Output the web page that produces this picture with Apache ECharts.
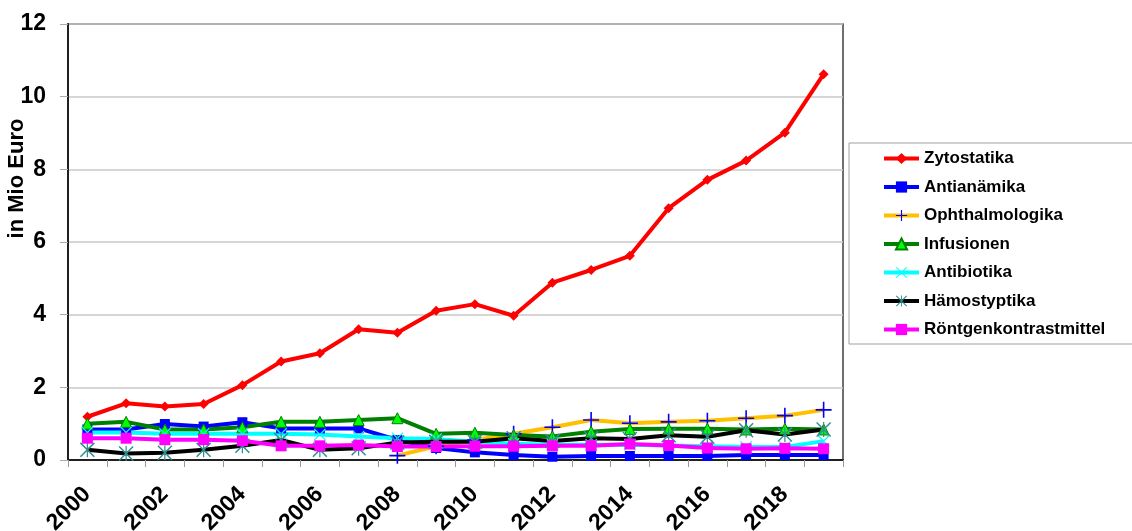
<!DOCTYPE html>
<html>
<head>
<meta charset="utf-8">
<script src="https://cdn.jsdelivr.net/npm/echarts@6/dist/echarts.min.js"></script>
<style>
  html, body { margin: 0; padding: 0; background: #fff; }
  #chart { width: 1132px; height: 531px; }
</style>
</head>
<body>
<div id="chart"></div>
<script>
var years = ['2000','2001','2002','2003','2004','2005','2006','2007','2008','2009',
             '2010','2011','2012','2013','2014','2015','2016','2017','2018','2019'];

var zytostatika = [1.19,1.56,1.47,1.54,2.06,2.71,2.94,3.6,3.5,4.11,4.29,3.97,4.88,5.23,5.62,6.93,7.71,8.24,9.01,10.62];
var antianaemika = [0.84,0.84,0.99,0.92,1.04,0.87,0.87,0.87,0.55,0.33,0.21,0.14,0.09,0.11,0.11,0.11,0.11,0.14,0.14,0.14];
var ophthalmologika = [null,null,null,null,null,null,null,null,0.12,0.38,0.55,0.72,0.9,1.1,1.01,1.05,1.08,1.15,1.22,1.38];
var infusionen = [1.0,1.05,0.84,0.84,0.9,1.05,1.05,1.1,1.15,0.72,0.75,0.69,0.65,0.78,0.85,0.86,0.86,0.84,0.86,0.84];
var antibiotika = [0.76,0.76,0.72,0.72,0.72,0.72,0.7,0.65,0.6,0.58,0.5,0.45,0.42,0.42,0.42,0.4,0.38,0.36,0.36,0.52];
var haemostyptika = [0.28,0.18,0.2,0.28,0.39,0.55,0.28,0.32,0.48,0.5,0.5,0.6,0.52,0.6,0.58,0.68,0.64,0.82,0.7,0.84];
var roentgen = [0.6,0.6,0.56,0.56,0.53,0.39,0.39,0.41,0.37,0.37,0.38,0.38,0.39,0.39,0.44,0.4,0.33,0.31,0.32,0.31];

var yTicks = [0, 2, 4, 6, 8, 10, 12];

// Marker-Formen
var plusPath = 'path://M9,0h2v20h-2zM0,9h20v2h-20z';
var crossPath = 'path://M0,1.4L1.4,0L20,18.6L18.6,20ZM18.6,0L20,1.4L1.4,20L0,18.6Z';
var starPath = 'path://M0,1.4L1.4,0L20,18.6L18.6,20ZM18.6,0L20,1.4L1.4,20L0,18.6ZM9.2,0h1.6v20h-1.6z';

var FONT = '"Liberation Sans", Arial, sans-serif';

function line(name, data, color, symbol, size, symColor, extra) {
    var s = {
        name: name,
        type: 'line',
        data: data,
        symbol: symbol,
        symbolSize: size,
        showSymbol: true,
        connectNulls: false,
        lineStyle: { color: color, width: 4 },
        itemStyle: { color: symColor || color },
        emphasis: { disabled: true }
    };
    if (extra) { Object.assign(s.itemStyle, extra); }
    return s;
}

var chart = echarts.init(document.getElementById('chart'));
var option = {
    backgroundColor: '#fff',
    animation: false,
    textStyle: { fontFamily: FONT },
    grid: {
        left: 68, right: 289, top: 24, bottom: 71,
        show: true, borderColor: '#404040', borderWidth: 1.5,
        containLabel: false,
        outerBoundsMode: 'none'
    },
    legend: {
        orient: 'vertical',
        left: 849, top: 143,
        padding: [7, 60, 6, 33],
        itemWidth: 35, itemHeight: 14, itemGap: 11.5,
        backgroundColor: '#fff',
        borderColor: '#a0a0a0', borderWidth: 1,
        borderRadius: 0,
        lineStyle: { width: 4 },
        textStyle: { fontFamily: FONT, fontSize: 17, fontWeight: 'bold', color: '#000', lineHeight: 17 },
        data: ['Zytostatika','Antianämika','Ophthalmologika','Infusionen','Antibiotika','Hämostyptika','Röntgenkontrastmittel']
    },
    xAxis: {
        type: 'category',
        data: years,
        boundaryGap: true,
        axisLine: { lineStyle: { color: '#202020', width: 2 } },
        axisTick: { show: true, interval: 0, length: 7, lineStyle: { color: '#999' } },
        axisLabel: {
            interval: 1, rotate: 45, margin: 14,
            fontFamily: FONT, fontSize: 23, fontWeight: 'bold', color: '#000',
            verticalAlign: 'top', padding: [0, 12, 0, 0]
        },
        splitLine: { show: false }
    },
    yAxis: {
        type: 'value',
        min: yTicks[0], max: yTicks[yTicks.length - 1], interval: 2,
        name: 'in Mio Euro',
        nameLocation: 'middle',
        nameGap: 40,
        nameMoveOverlap: false,
        nameTextStyle: { fontFamily: FONT, fontSize: 22, fontWeight: 'bold', color: '#000', padding: [0, 0, 0, 127] },
        axisLine: { show: true, lineStyle: { color: '#202020', width: 2 } },
        axisTick: { show: true, length: 8, lineStyle: { color: '#aaa' } },
        axisLabel: { margin: 22, fontFamily: FONT, fontSize: 23, fontWeight: 'bold', color: '#000' },
        splitLine: { show: true, lineStyle: { color: '#c8c8c8', width: 1.5 } }
    },
    series: [
        line('Zytostatika', zytostatika, '#ff0000', 'diamond', 10),
        line('Antianämika', antianaemika, '#0000ff', 'rect', 10),
        line('Ophthalmologika', ophthalmologika, '#ffc000', plusPath, 16, '#0000ff'),
        line('Infusionen', infusionen, '#008000', 'triangle', 11, '#00ff00', { borderColor: '#008000', borderWidth: 1 }),
        line('Antibiotika', antibiotika, '#00ffff', crossPath, 12),
        line('Hämostyptika', haemostyptika, '#000000', starPath, 15, '#2f8f8f'),
        line('Röntgenkontrastmittel', roentgen, '#ff00ff', 'rect', 11)
    ]
};
chart.setOption(option);
</script>
</body>
</html>
